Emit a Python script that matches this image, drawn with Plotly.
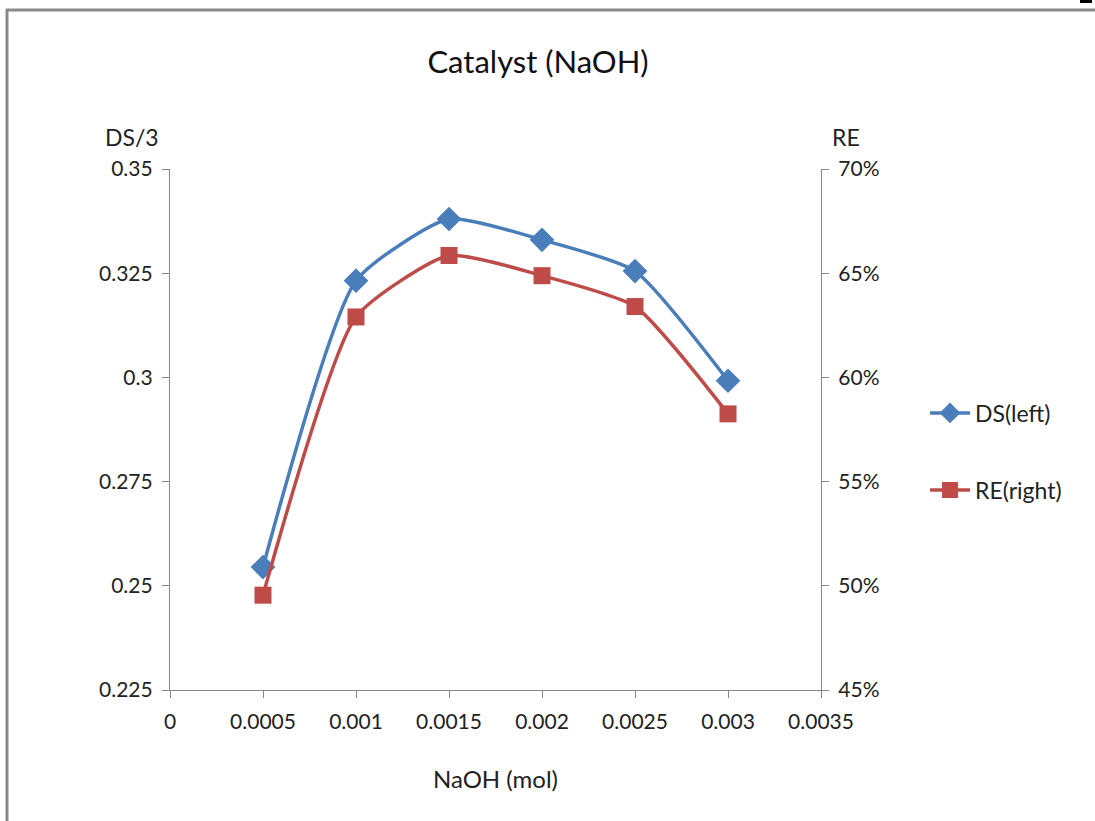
import plotly.graph_objects as go

naoh_mol = [0.0005, 0.001, 0.0015, 0.002, 0.0025, 0.003]
ds_left = [0.2545, 0.3232, 0.3380, 0.3330, 0.3255, 0.2992]
re_right = [0.4955, 0.6290, 0.6585, 0.6488, 0.6340, 0.5825]

x_tickvals = [0, 0.0005, 0.001, 0.0015, 0.002, 0.0025, 0.003, 0.0035]
x_ticktext = ["0", "0.0005", "0.001", "0.0015", "0.002", "0.0025", "0.003", "0.0035"]
y_tickvals = [0.225, 0.25, 0.275, 0.3, 0.325, 0.35]
y_ticktext = ["0.225", "0.25", "0.275", "0.3", "0.325", "0.35"]
y2_tickvals = [0.45, 0.50, 0.55, 0.60, 0.65, 0.70]
y2_ticktext = ["45%", "50%", "55%", "60%", "65%", "70%"]

FONT = "Lato"
AX = "#868686"
BLUE = "#4A7EBB"
RED = "#BE4B48"
TXT = "#222222"

fig = go.Figure()
fig.add_trace(go.Scatter(
    x=naoh_mol, y=ds_left, name="DS(left)", mode="lines+markers",
    line=dict(color=BLUE, width=3.5, shape="spline", smoothing=0.55),
    marker=dict(symbol="diamond", size=19, color=BLUE),
    legend="legend", yaxis="y"))
fig.add_trace(go.Scatter(
    x=naoh_mol, y=re_right, name="RE(right)", mode="lines+markers",
    line=dict(color=RED, width=3.5, shape="spline", smoothing=0.55),
    marker=dict(symbol="square", size=17, color=RED),
    legend="legend2", yaxis="y2"))

W, H = 1095, 821
L, R, T, B = 170, 821, 169, 690
pw, ph = R - L, B - T

def px(x):
    return (x - L) / pw

def py(y):
    return 1 - (y - T) / ph

TICKF = dict(family=FONT, size=21, color=TXT)

fig.update_layout(
    width=W, height=H,
    margin=dict(l=L, r=W - R, t=T, b=H - B, pad=0),
    paper_bgcolor="white", plot_bgcolor="white",
    font=dict(family=FONT, size=21, color=TXT),
    showlegend=True,
    title=dict(text="Catalyst (NaOH)", x=px(538), xanchor="center", xref="paper",
               y=1 - 62 / H, yanchor="middle", yref="container",
               font=dict(family=FONT, size=31, color="#111111")),
    xaxis=dict(range=[0, 0.0035], tickvals=x_tickvals, ticktext=x_ticktext,
               showgrid=False, zeroline=False, showline=True, linecolor=AX, linewidth=1.2,
               ticks="outside", ticklen=7, tickcolor=AX, tickwidth=1.2,
               ticklabelstandoff=6, tickfont=TICKF,
               title=dict(text="NaOH (mol)", font=dict(family=FONT, size=24, color=TXT), standoff=38)),
    yaxis=dict(range=[0.225, 0.35], tickvals=y_tickvals, ticktext=y_ticktext,
               showgrid=False, zeroline=False, showline=True, linecolor=AX, linewidth=1.2,
               ticks="outside", ticklen=7, tickcolor=AX, tickwidth=1.2,
               ticklabelstandoff=5, tickfont=TICKF),
    yaxis2=dict(range=[0.45, 0.70], tickvals=y2_tickvals, ticktext=y2_ticktext,
                overlaying="y", side="right",
                showgrid=False, zeroline=False, showline=True, linecolor=AX, linewidth=1.2,
                ticks="outside", ticklen=7, tickcolor=AX, tickwidth=1.2,
                ticklabelstandoff=5, tickfont=TICKF),
    legend=dict(x=px(925), y=py(413), xanchor="left", yanchor="middle", itemwidth=40,
                bgcolor="rgba(0,0,0,0)", font=dict(family=FONT, size=23, color=TXT)),
    legend2=dict(x=px(925), y=py(490), xanchor="left", yanchor="middle", itemwidth=40,
                 bgcolor="rgba(0,0,0,0)", font=dict(family=FONT, size=23, color=TXT)),
    annotations=[
        dict(text="DS/3", x=px(132), y=py(137), xref="paper", yref="paper",
             showarrow=False, xanchor="center", yanchor="middle",
             font=dict(family=FONT, size=23, color=TXT)),
        dict(text="RE", x=px(846), y=py(137), xref="paper", yref="paper",
             showarrow=False, xanchor="center", yanchor="middle",
             font=dict(family=FONT, size=23, color=TXT)),
    ],
    shapes=[
        dict(type="line", xref="paper", yref="paper", x0=px(7), x1=px(7), y0=py(9), y1=py(830),
             line=dict(color="#8A8A8A", width=3)),
        dict(type="line", xref="paper", yref="paper", x0=px(6), x1=px(1100), y0=py(10), y1=py(10),
             line=dict(color="#8A8A8A", width=3)),
        dict(type="line", xref="paper", yref="paper", x0=px(1080), x1=px(1092), y0=py(1.5), y1=py(1.5),
             line=dict(color="#000000", width=3)),
    ],
)

fig.write_html("out.html")
